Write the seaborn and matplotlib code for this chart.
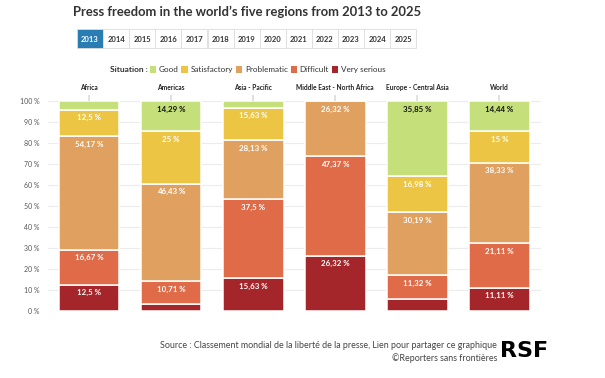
import pandas as pd
import seaborn as sns
import matplotlib.pyplot as plt
from matplotlib.patches import Rectangle, Patch

# Share of countries (%) in each situation, per region, 2013
regions = ["Africa", "Americas", "Asia - Pacific", "Middle East - North Africa",
           "Europe - Central Asia", "World"]
situations = ["Good", "Satisfactory", "Problematic", "Difficult", "Very serious"]
good = [4.17, 14.29, 3.12, 0, 35.85, 14.44]
satisfactory = [12.5, 25, 15.63, 0, 16.98, 15]
problematic = [54.17, 46.43, 28.13, 26.32, 30.19, 38.33]
difficult = [16.67, 10.71, 37.5, 47.37, 11.32, 21.11]
very_serious = [12.5, 3.57, 15.63, 26.32, 5.66, 11.11]
years = ["2013", "2014", "2015", "2016", "2017", "2018", "2019",
         "2020", "2021", "2022", "2023", "2024", "2025"]

colors = {
    "Good": "#c5e07a",
    "Satisfactory": "#ecc544",
    "Problematic": "#e0a05f",
    "Difficult": "#df6b48",
    "Very serious": "#a5262a",
}

values = {
    "Good": good,
    "Satisfactory": satisfactory,
    "Problematic": problematic,
    "Difficult": difficult,
    "Very serious": very_serious,
}

rows = []
for s in situations:
    for r, v in zip(regions, values[s]):
        rows.append({"region": r, "situation": s, "share": v})
df = pd.DataFrame(rows)

sns.set_theme(style="white")
plt.rcParams["font.family"] = ["Lato", "DejaVu Sans"]

W, H = 605, 378
fig = plt.figure(figsize=(W / 100, H / 100), dpi=100)
ax = fig.add_axes([48 / W, 1 - 311 / H, 492.5 / W, 210 / H])

# Stack from the bottom: very serious first
stack_order = situations[::-1]
bottom = pd.Series(0.0, index=regions)
for s in stack_order:
    sub = df[df["situation"] == s].set_index("region").loc[regions].reset_index()
    sns.barplot(data=sub, x="region", y="share", order=regions,
                color=colors[s], saturation=1, width=0.74,
                bottom=bottom.values, edgecolor="white", linewidth=1.1, ax=ax)
    for i, r in enumerate(regions):
        v = sub.loc[i, "share"]
        if v >= 10:
            txt = f"{v:g}".replace(".", ",") + " %"
            ax.annotate(txt, (i, bottom[r] + v), xytext=(0, -5.8),
                        textcoords="offset points", ha="center", va="center",
                        fontsize=5.7, fontweight="bold",
                        color="#111111" if s == "Good" else "white")
    bottom = bottom + sub.set_index("region")["share"]

ax.set_xlim(-0.5, len(regions) - 0.5)
ax.set_ylim(0, 100)
ax.set_yticks(range(0, 101, 10))
ax.set_yticklabels([f"{t} %" for t in range(0, 101, 10)])
ax.yaxis.grid(True, color="#ececec", linewidth=0.8)
ax.set_axisbelow(True)
ax.xaxis.tick_top()
ax.tick_params(axis="x", length=4, color="#dddddd", labelsize=4.8, pad=3,
               labelcolor="#222222")
ax.tick_params(axis="y", length=0, labelsize=5, pad=6, labelcolor="#555555")
for lab in ax.get_xticklabels():
    lab.set_fontweight("bold")
ax.set_xlabel("")
ax.set_ylabel("")
sns.despine(ax=ax, left=True, bottom=True)

# Title
fig.text(247 / W, 1 - 12 / H, "Press freedom in the world\u2019s five regions from 2013 to 2025",
         ha="center", va="center", fontsize=9.4, fontweight="bold", color="#333333")

# Year selector
bw = 26.1
for i, yr in enumerate(years):
    x0 = 77 + i * bw
    active = i == 0
    fig.add_artist(Rectangle((x0 / W, 1 - 48 / H), bw / W, 19 / H,
                             transform=fig.transFigure,
                             facecolor="#2a7db3" if active else "white",
                             edgecolor="#dcdcdc", linewidth=0.6))
    fig.text((x0 + bw / 2) / W, 1 - 39 / H, yr, ha="center", va="center",
             fontsize=5.5, fontweight="bold",
             color="white" if active else "#333333")

# Legend
fig.text(148 / W, 1 - 69.5 / H, "Situation :", ha="right", va="center",
         fontsize=6, fontweight="bold", color="#333333")
handles = [Patch(facecolor=colors[s], edgecolor="none", label=s) for s in situations]
fig.legend(handles=handles, loc="center left", bbox_to_anchor=(148 / W, 1 - 69.5 / H),
           ncol=5, frameon=False, fontsize=5.9, handlelength=0.8, handleheight=0.9,
           handletextpad=0.3, columnspacing=0.35, borderaxespad=0, borderpad=0.2,
           labelcolor="#333333")

# Source and logo
fig.text(497 / W, 1 - 345 / H,
         "Source : Classement mondial de la libert\u00e9 de la presse, Lien pour partager ce graphique",
         ha="right", va="center", fontsize=6.4, color="#444444")
fig.text(497 / W, 1 - 358 / H, "\u00a9Reporters sans fronti\u00e8res",
         ha="right", va="center", fontsize=6.4, color="#444444")
fig.text(524 / W, 1 - 351 / H, "RSF", ha="center", va="center",
         fontsize=16, fontweight="heavy", color="black", family="DejaVu Sans")

fig.savefig("out.png", dpi=100, facecolor="white")
